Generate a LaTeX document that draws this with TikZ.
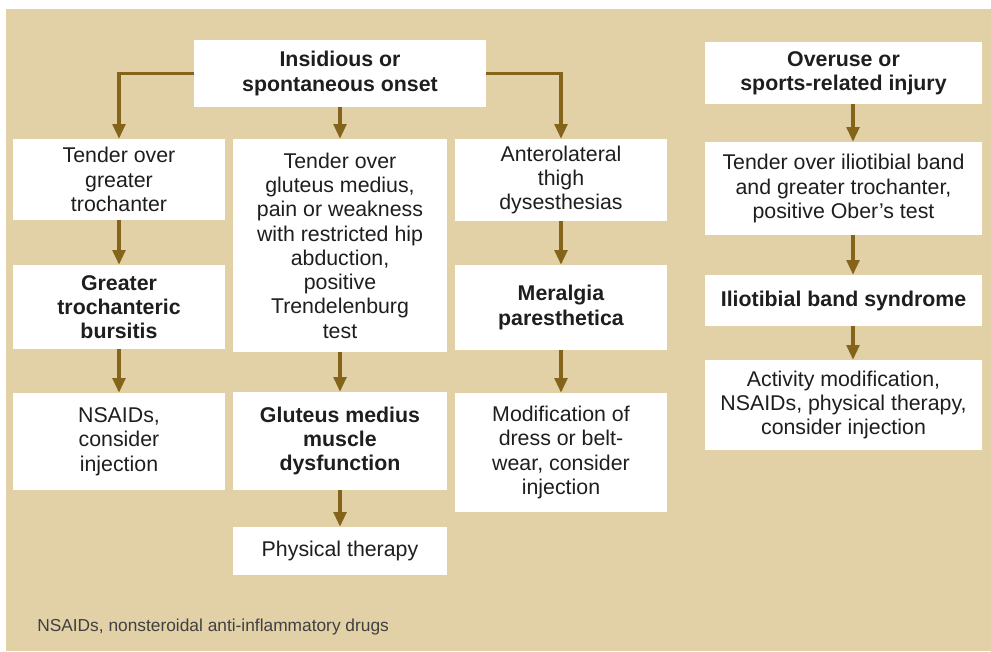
\documentclass[tikz,border=0pt]{standalone}
\usepackage{fontspec}
\setmainfont{Liberation Sans}
\usetikzlibrary{arrows.meta}
\definecolor{sand}{HTML}{E2D0A6}
\definecolor{arrowbrown}{HTML}{84631A}
\definecolor{ink}{HTML}{1E1E1E}

\begin{document}
\begin{tikzpicture}[x=0.75pt,y=-0.75pt,
  box/.style={fill=white, draw=none, inner sep=0pt, align=center, text=ink,
    font=\fontsize{16}{18.2}\selectfont},
  hd/.style={box, font=\fontsize{16}{18.2}\selectfont\bfseries},
  arr/.style={draw=arrowbrown, line width=2.4pt,
    -{Triangle[length=11pt,width=9.5pt]}}]

% canvas and sand panel
\useasboundingbox (0,0) rectangle (991,651);
\fill[white] (0,0) rectangle (991,651);
\fill[sand] (6,9) rectangle (991,651);

% left branch: insidious onset
\node[hd, minimum width=219pt, minimum height=50.25pt] (top) at (340,73.5)
  {Insidious or\\spontaneous onset};

\node[box, minimum width=159pt, minimum height=60.75pt] (A1) at (119,179.5)
  {Tender over\\greater\\trochanter};
\node[hd, minimum width=159pt, minimum height=63pt] (A2) at (119,307)
  {Greater\\trochanteric\\bursitis};
\node[box, minimum width=159pt, minimum height=72.75pt] (A3) at (119,441.5)
  {NSAIDs,\\consider\\injection};

\node[box, minimum width=160.5pt, minimum height=159.75pt] (B1) at (340,245.5)
  {Tender over\\gluteus medius,\\pain or weakness\\with restricted hip\\abduction,\\positive\\Trendelenburg\\test};
\node[hd, minimum width=160.5pt, minimum height=73.5pt] (B2) at (340,441)
  {Gluteus medius\\muscle\\dysfunction};
\node[box, minimum width=160.5pt, minimum height=36pt] (B3) at (340,551)
  {Physical therapy};

\node[box, minimum width=159pt, minimum height=61.5pt] (C1) at (561,180)
  {Anterolateral\\thigh\\dysesthesias};
\node[hd, minimum width=159pt, minimum height=63.75pt] (C2) at (561,307.5)
  {Meralgia\\paresthetica};
\node[box, minimum width=159pt, minimum height=89.25pt] (C3) at (561,452.5)
  {Modification of\\dress or belt-\\wear, consider\\injection};

% right branch: overuse
\node[hd, minimum width=207.75pt, minimum height=46.5pt] (D1) at (843.5,73)
  {Overuse or\\sports-related injury};
\node[box, minimum width=207.75pt, minimum height=69.75pt] (D2) at (843.5,188.5)
  {Tender over iliotibial band\\and greater trochanter,\\positive Ober's test};
\node[hd, minimum width=207.75pt, minimum height=38.25pt] (D3) at (843.5,300.5)
  {Iliotibial band syndrome};
\node[box, minimum width=207.75pt, minimum height=67.5pt] (D4) at (843.5,405)
  {Activity modification,\\NSAIDs, physical therapy,\\consider injection};

\node[anchor=west, inner sep=0pt, text=ink!85,
  font=\fontsize{13}{15}\selectfont] (note) at (37,627)
  {NSAIDs, nonsteroidal anti-inflammatory drugs};

% connectors
\draw[arr] (top.west) -| (A1.north);
\draw[arr] (top.south) -- (B1.north);
\draw[arr] (top.east) -| (C1.north);

\draw[arr] (A1.south) -- (A2.north);
\draw[arr] (A2.south) -- (A3.north);
\draw[arr] (B1.south) -- (B2.north);
\draw[arr] (B2.south) -- (B3.north);
\draw[arr] (C1.south) -- (C2.north);
\draw[arr] (C2.south) -- (C3.north);

\coordinate (dcol) at (853,0);
\draw[arr] (D1.south -| dcol) -- (D2.north -| dcol);
\draw[arr] (D2.south -| dcol) -- (D3.north -| dcol);
\draw[arr] (D3.south -| dcol) -- (D4.north -| dcol);
\end{tikzpicture}
\end{document}
